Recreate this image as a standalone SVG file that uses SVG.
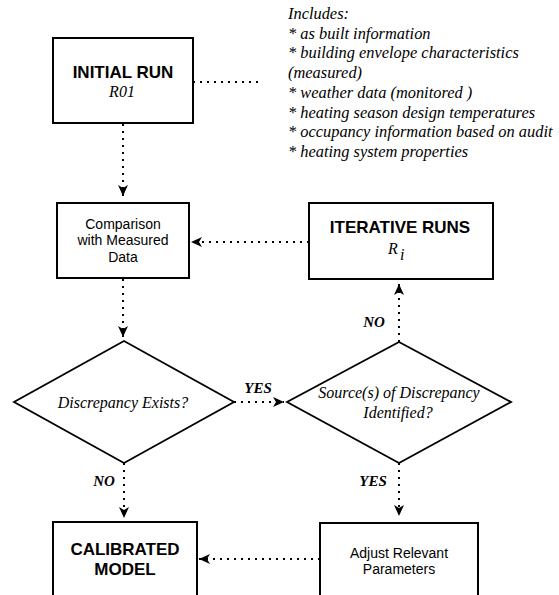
<svg xmlns="http://www.w3.org/2000/svg" width="559" height="595" viewBox="0 0 559 595">
<style>
.box{fill:#fff;stroke:#000;stroke-width:2}
.dia{fill:#fff;stroke:#000;stroke-width:1.8}
.conn{fill:none;stroke:#000;stroke-width:2;stroke-dasharray:2 5}
.sb{font-family:'Liberation Sans',Arial,sans-serif;font-weight:bold;font-size:17px;text-anchor:middle;fill:#000}
.sr{font-family:'Liberation Sans',Arial,sans-serif;font-size:14px;text-anchor:middle;fill:#000}
.ti{font-family:'Liberation Serif','DejaVu Serif',serif;font-style:italic;font-size:16px;fill:#000}
.note{font-size:16.4px}
.tbi{font-family:'Liberation Serif','DejaVu Serif',serif;font-style:italic;font-weight:bold;font-size:15px;text-anchor:middle;fill:#000}
</style>
<defs>
<marker id="ah" markerUnits="userSpaceOnUse" markerWidth="12" markerHeight="12" viewBox="0 0 12 12" refX="11" refY="6" orient="auto">
<path d="M0,1 L11,6 L0,11 L3,6 z" fill="#000"/>
</marker>
</defs>
<rect width="559" height="595" fill="#fff"/>
<g id="connectors">
<path class="conn" d="M193,82 H262"/>
<path class="conn" d="M123,124 V196" marker-end="url(#ah)"/>
<path class="conn" d="M309,242 H191" marker-end="url(#ah)"/>
<path class="conn" d="M123,279 V337" marker-end="url(#ah)"/>
<path class="conn" d="M234,402 H284" marker-end="url(#ah)"/>
<path class="conn" d="M399,342 V284" marker-end="url(#ah)"/>
<path class="conn" d="M124,463 V518" marker-end="url(#ah)"/>
<path class="conn" d="M399,463 V516" marker-end="url(#ah)"/>
<path class="conn" d="M320,559 H199" marker-end="url(#ah)"/>
<text class="tbi" x="258" y="393">YES</text>
<text class="tbi" x="374" y="327">NO</text>
<text class="tbi" x="104" y="486">NO</text>
<text class="tbi" x="373" y="486">YES</text>
</g>
<g id="note">
<text class="ti note" x="288" y="19">Includes:</text>
<text class="ti note" x="288" y="39">* as built information</text>
<text class="ti note" x="288" y="58">* building envelope characteristics</text>
<text class="ti note" x="288" y="78">(measured)</text>
<text class="ti note" x="288" y="98">* weather data (monitored )</text>
<text class="ti note" x="288" y="118">* heating season design temperatures</text>
<text class="ti note" x="288" y="137">* occupancy information based on audit</text>
<text class="ti note" x="288" y="157">* heating system properties</text>
</g>
<g id="initial-run">
<rect class="box" x="53" y="38" width="140" height="85"/>
<text class="sb" x="123" y="78">INITIAL RUN</text>
<text class="ti" x="122" y="97" text-anchor="middle">R01</text>
</g>
<g id="comparison">
<rect class="box" x="57" y="203" width="132" height="75"/>
<text class="sr" x="123" y="229">Comparison</text>
<text class="sr" x="123" y="245">with Measured</text>
<text class="sr" x="123" y="262">Data</text>
</g>
<g id="iterative-runs">
<rect class="box" x="309" y="203" width="184" height="76"/>
<text class="sb" x="400" y="233">ITERATIVE RUNS</text>
<text class="ti" x="388" y="254" font-size="18">R</text>
<text class="ti" x="400" y="260" font-size="13">i</text>
</g>
<g id="discrepancy-exists">
<polygon class="dia" points="124,341 234,402 124,463 14,402"/>
<text class="ti" x="123" y="408" text-anchor="middle">Discrepancy Exists?</text>
</g>
<g id="source-identified">
<polygon class="dia" points="399,342 511,402 399,463 287,402"/>
<text class="ti" x="399" y="398" text-anchor="middle">Source(s) of Discrepancy</text>
<text class="ti" x="398" y="418" text-anchor="middle">Identified?</text>
</g>
<g id="calibrated-model">
<rect class="box" x="53" y="522" width="144" height="90"/>
<text class="sb" x="125" y="555">CALIBRATED</text>
<text class="sb" x="125" y="575">MODEL</text>
</g>
<g id="adjust-parameters">
<rect class="box" x="320" y="523" width="158" height="90"/>
<text class="sr" x="399" y="558">Adjust Relevant</text>
<text class="sr" x="399" y="574">Parameters</text>
</g>
</svg>
